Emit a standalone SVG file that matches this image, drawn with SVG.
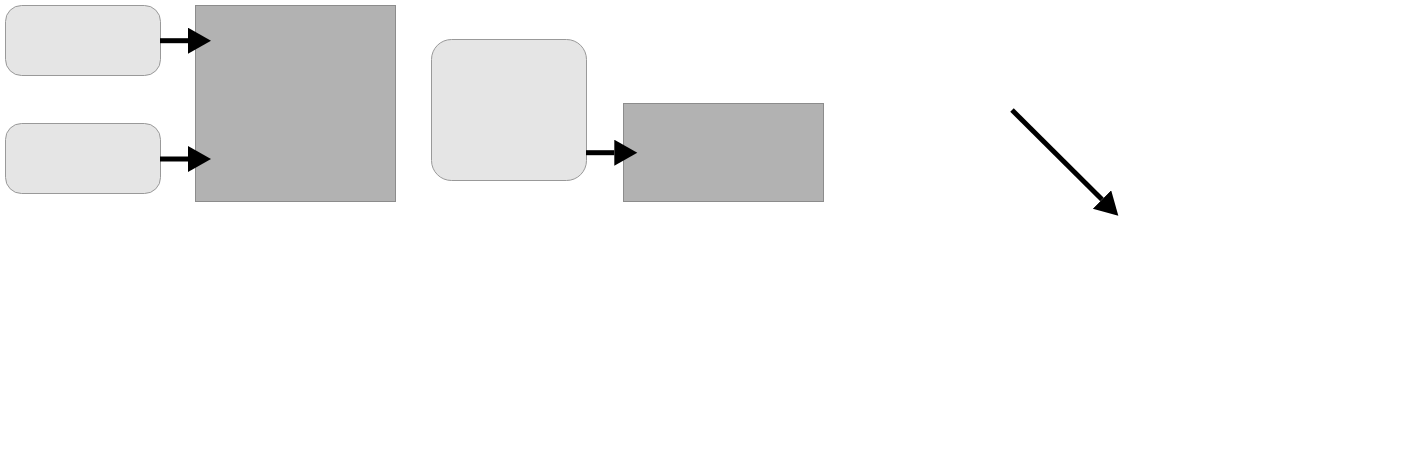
<svg xmlns="http://www.w3.org/2000/svg" width="1424" height="451" viewBox="0 0 1424 451">
<style>
.soft{fill:#e5e5e5;stroke:#999999;stroke-width:1}
.dark{fill:#b2b2b2;stroke:#8c8c8c;stroke-width:1}
.conn{stroke:#000;stroke-width:5;fill:none;marker-end:url(#head)}
</style>
<defs>
<marker id="head" markerUnits="userSpaceOnUse" markerWidth="24" markerHeight="27" refX="0" refY="13" orient="auto" viewBox="0 0 24 27">
<path d="M0,0 L23,13 L0,26 z" fill="#000"/>
</marker>
</defs>
<rect width="1424" height="451" fill="#fff"/>
<g id="node-a"><rect class="soft" x="5.5" y="5.5" width="155" height="70" rx="16"/></g>
<g id="node-b"><rect class="soft" x="5.5" y="123.5" width="155" height="70" rx="16"/></g>
<g id="node-big"><rect class="dark" x="195.5" y="5.5" width="200" height="196"/></g>
<g id="node-c"><rect class="soft" x="431.5" y="39.5" width="155" height="141" rx="20"/></g>
<g id="node-d"><rect class="dark" x="623.5" y="103.5" width="200" height="98"/></g>
<g id="connectors">
<line class="conn" x1="160" y1="40.7" x2="188" y2="40.7"/>
<line class="conn" x1="160" y1="159" x2="188" y2="159"/>
<line class="conn" x1="586" y1="152.7" x2="614.3" y2="152.7"/>
<line class="conn" x1="1012" y1="110" x2="1102" y2="199.5"/>
</g>
</svg>
